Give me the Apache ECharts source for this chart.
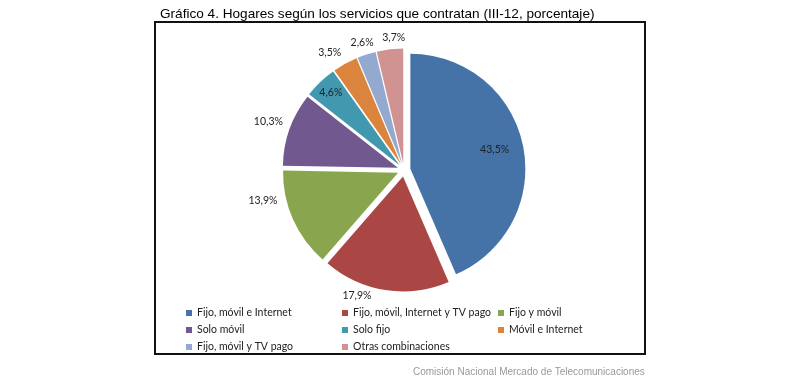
<!DOCTYPE html>
<html>
<head>
<meta charset="utf-8">
<script src="https://cdn.jsdelivr.net/npm/echarts@6/dist/echarts.min.js"></script>
<style>
html,body{margin:0;padding:0;background:#fff;}
#chart{width:800px;height:388px;}
</style>
</head>
<body>
<div id="chart"></div>
<script>
const titleText = 'Gráfico 4. Hogares según los servicios que contratan (III-12, porcentaje)';
const sourceText = 'Comisión Nacional Mercado de Telecomunicaciones';
const categories = ['Fijo, móvil e Internet', 'Fijo, móvil, Internet y TV pago', 'Fijo y móvil', 'Solo móvil', 'Solo fijo', 'Móvil e Internet', 'Fijo, móvil y TV pago', 'Otras combinaciones'];
const values = [43.5, 17.9, 13.9, 10.3, 4.6, 3.5, 2.6, 3.7];
const colors = ['#4572A7', '#AA4643', '#89A54E', '#71588F', '#4198AF', '#DB843D', '#93A9CF', '#D19392'];
const legendCol1 = ['Fijo, móvil e Internet', 'Solo móvil', 'Fijo, móvil y TV pago'];
const legendCol2 = ['Fijo, móvil, Internet y TV pago', 'Solo fijo', 'Otras combinaciones'];
const legendCol3 = ['Fijo y móvil', 'Móvil e Internet'];
// label placement styles (inside/outside and nudges)
const labelPos = ['inside', 'outside', 'outside', 'outside', 'inside', 'outside', 'outside', 'outside'];
const labelNudge = [[25, -7], [-8, 0], [-5, -21], [4, -6], [-27, -29], [4, -6], [14, -6], [21, -6]];

const chart = echarts.init(document.getElementById('chart'), null, {renderer: 'canvas'});
const labelFont = 'Lato';
const legendBase = {
  orient: 'vertical', top: 302, itemWidth: 6, itemHeight: 6, icon: 'rect', itemGap: 5,
  selectedMode: false,
  textStyle: {fontFamily: labelFont, fontSize: 10.5, color: '#222', lineHeight: 12}
};
const option = {
  animation: false,
  color: colors,
  title: {
    text: titleText, left: 155, top: 2,
    textStyle: {fontFamily: 'Liberation Sans', fontSize: 13.6, fontWeight: 'normal', color: '#000'}
  },
  legend: [
    Object.assign({}, legendBase, {left: 181, data: legendCol1}),
    Object.assign({}, legendBase, {left: 337, data: legendCol2}),
    Object.assign({}, legendBase, {left: 493, data: legendCol3})
  ],
  graphic: [
    {type: 'rect', shape: {x: 155, y: 22, width: 490, height: 332}, style: {fill: 'none', stroke: '#111', lineWidth: 2}, z: 0, silent: true},
    {type: 'text', left: 413, top: 367, style: {text: sourceText, fill: '#999', font: '10px "Liberation Sans"'}, silent: true}
  ],
  series: [{
    type: 'pie',
    center: [404, 170],
    radius: [0, 115],
    startAngle: 90,
    clockwise: true,
    selectedMode: 'multiple',
    selectedOffset: 6.5,
    avoidLabelOverlap: false,
    emphasis: {disabled: true},
    select: {itemStyle: {}, label: {}},
    itemStyle: {borderWidth: 0},
    label: {
      fontFamily: labelFont, fontSize: 10.5, color: '#222',
      formatter: p => p.value.toFixed(1).replace('.', ',') + '%'
    },
    labelLine: {show: false, length: 6, length2: 0},
    labelLayout: p => ({dx: labelNudge[p.dataIndex][0], dy: labelNudge[p.dataIndex][1], hideOverlap: false}),
    data: categories.map((c, i) => ({
      name: c, value: values[i], selected: true,
      label: {position: labelPos[i]}
    }))
  }]
};
chart.setOption(option);
</script>
</body>
</html>
